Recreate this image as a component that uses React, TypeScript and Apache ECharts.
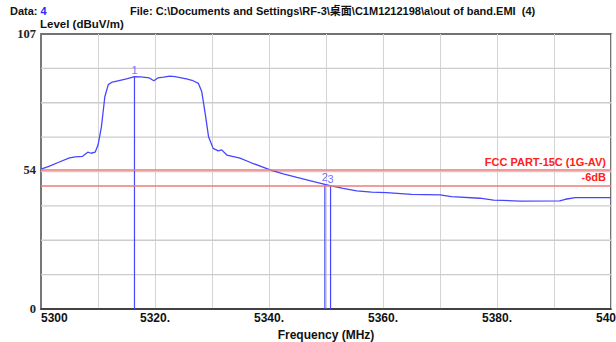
import React, { useEffect, useRef } from "react";
import * as echarts from "echarts";

const freqs = [
  5300.0, 5301.5, 5303.0, 5305.0, 5306.0, 5307.3, 5308.2, 5308.8, 5309.5, 5310.0,
  5310.6, 5311.2, 5311.8, 5312.5, 5313.5, 5315.0, 5316.4, 5317.5, 5319.0, 5319.8,
  5320.5, 5321.5, 5322.6, 5323.5, 5324.4, 5325.5, 5326.5, 5327.6, 5328.2, 5328.8,
  5329.4, 5330.2, 5331.1, 5331.7, 5332.6, 5334.9, 5337.0, 5340.2, 5342.5, 5344.9,
  5347.5, 5349.8, 5350.7, 5353.0, 5355.4, 5358.0, 5360.6, 5365.0, 5370.0, 5372.0,
  5377.0, 5379.4, 5384.0, 5391.0, 5392.0, 5393.7, 5400.0,
];
const levels = [
  54.4, 55.6, 57.0, 58.8, 59.2, 59.4, 61.0, 60.6, 61.0, 63.8,
  70.9, 82.6, 87.3, 88.3, 88.8, 89.5, 90.4, 90.3, 89.9, 88.8,
  89.9, 90.2, 90.6, 90.4, 90.0, 89.5, 89.0, 87.8, 84.6, 76.1,
  67.0, 62.5, 61.5, 61.9, 59.9, 58.7, 56.8, 54.1, 52.6, 51.2,
  49.8, 48.5, 48.0, 46.9, 46.0, 45.5, 45.3, 44.6, 44.4, 43.7,
  43.1, 42.4, 42.0, 42.1, 42.7, 43.3, 43.3,
];

const markerNames = ["1", "2", "3"];
const markerFreqs = [5316.4, 5349.8, 5350.8];
const markerLevels = [90.4, 48.5, 48.0];

const limitLevel = 54;
const limitName = "FCC PART-15C (1G-AV)";
const marginLevel = 48;
const marginName = "-6dB";

const yMin = 0;
const yMax = 107;
const xMin = 5300;
const xMax = 5400;
const yLabelValues = [0, 54, 107];
const xLabelFreqs = [5300, 5320, 5340, 5360, 5380, 5400];
const yGridDivisions = 8;

const dataNo = "4";
const fileText = "File: C:\\Documents and Settings\\RF-3\\桌面\\C1M1212198\\a\\out of band.EMI  (4)";

export default function App() {
  const ref = useRef<HTMLDivElement>(null);
  useEffect(() => {
    if (!ref.current) return;
    const chart = echarts.init(ref.current, null, { renderer: "svg" });
    const blue = "#4646ff";
    const red = "#f07a7a";
    const gridGrey = "#d4d4d4";
    const gridLevels: number[] = [];
    for (let k = 1; k < yGridDivisions; k++) gridLevels.push(((yMax - yMin) * k) / yGridDivisions);
    const gridSeries = gridLevels.map((lv, i) => ({
      type: "line",
      name: "hgrid" + i,
      data: [
        [xMin, lv],
        [xMax, lv],
      ],
      symbol: "none",
      silent: true,
      clip: false,
      lineStyle: { color: "#cccccc", width: 1.4 },
      z: 1,
    }));
    const markerSeries = markerNames.map((n, i) => ({
      type: "line",
      name: "marker" + n,
      data: [
        [markerFreqs[i], markerLevels[i]],
        [markerFreqs[i], 0],
      ],
      symbol: "none",
      lineStyle: { color: blue, width: 1.2 },
      z: 3,
    }));
    chart.setOption({
      animation: false,
      grid: {
        left: 41,
        right: 5,
        top: 34,
        bottom: 33,
        show: true,
        backgroundColor: "transparent",
        borderColor: "#444",
        borderWidth: 1.5,
        outerBoundsMode: "none",
        containLabel: false,
      },
      graphic: [
        {
          type: "text",
          left: 10,
          top: 5,
          style: {
            text: "{a|Data: }{b|" + dataNo + "}",
            rich: {
              a: { fontSize: 11, fontWeight: "bold", fill: "#111", fontFamily: "Liberation Sans" },
              b: { fontSize: 11, fontWeight: "bold", fill: "#2a2aff", fontFamily: "Liberation Sans" },
            },
          },
        },
        {
          type: "text",
          left: 130,
          top: 5,
          style: {
            text: fileText,
            fontSize: 11,
            fontWeight: "bold",
            fill: "#111",
            fontFamily: "Liberation Sans, Noto Sans CJK SC",
          },
        },
        {
          type: "text",
          left: 40,
          top: 18,
          style: {
            text: "Level (dBuV/m)",
            fontSize: 11.5,
            fontWeight: "bold",
            fill: "#111",
            fontFamily: "Liberation Sans",
          },
        },
      ],
      xAxis: {
        type: "value",
        min: xMin,
        max: xMax,
        interval: 10,
        name: "Frequency (MHz)",
        nameLocation: "middle",
        nameGap: 17,
        nameTextStyle: { fontSize: 12, fontWeight: "bold", color: "#111", fontFamily: "Liberation Sans" },
        axisLine: { show: true, lineStyle: { color: "#333", width: 1.5 } },
        axisTick: { show: false },
        splitLine: { show: true, lineStyle: { color: gridGrey, width: 1 } },
        axisLabel: {
          margin: 3,
          fontSize: 12,
          fontWeight: "bold",
          color: "#111",
          fontFamily: "Liberation Sans",
          alignMinLabel: "left",
          hideOverlap: false,
          formatter: (v: number) => {
            if (!xLabelFreqs.includes(Math.round(v))) return "";
            return v === 5300 ? String(v) : v + ".";
          },
        },
      },
      yAxis: {
        type: "value",
        min: yMin,
        max: yMax,
        axisLine: { show: true, lineStyle: { color: "#777", width: 2 } },
        axisTick: { show: false },
        splitLine: { show: false },
        axisLabel: {
          customValues: yLabelValues,
          margin: 5,
          fontSize: 12.5,
          fontWeight: "bold",
          color: "#222",
          fontFamily: "Liberation Serif",
          formatter: (v: number) => String(v),
        },
      },
      series: [
        ...gridSeries,
        {
          type: "line",
          name: "limits",
          data: [],
          markLine: {
            silent: true,
            symbol: "none",
            lineStyle: { color: red, width: 1.5, type: "solid" },
            data: [
              { yAxis: limitLevel, label: { formatter: limitName } },
              { yAxis: marginLevel, label: { formatter: marginName } },
            ],
            label: {
              show: true,
              position: "insideEndTop",
              distance: [5, 3],
              color: "#ff2020",
              fontSize: 11,
              fontWeight: "bold",
              fontFamily: "Liberation Sans",
            },
          },
          z: 2,
        },
        {
          type: "line",
          name: "level",
          data: freqs.map((f, i) => [f, levels[i]]),
          symbol: "none",
          lineStyle: { color: blue, width: 1.3 },
          z: 3,
        },
        ...markerSeries,
        {
          type: "scatter",
          name: "markerLabels",
          data: markerNames.map((n, i) => ({ name: n, value: [markerFreqs[i], markerLevels[i]] })),
          symbol: "circle",
          symbolSize: 1,
          itemStyle: { color: blue },
          label: {
            show: true,
            position: "top",
            distance: 1,
            formatter: (p: any) => p.name,
            color: "#4a4aff",
            fontSize: 11,
            fontFamily: "Liberation Sans",
          },
          z: 4,
        },
      ],
    });
    return () => chart.dispose();
  }, []);
  return <div ref={ref} style={{ width: 616, height: 342, position: "absolute", left: 0, top: 0 }} />;
}
